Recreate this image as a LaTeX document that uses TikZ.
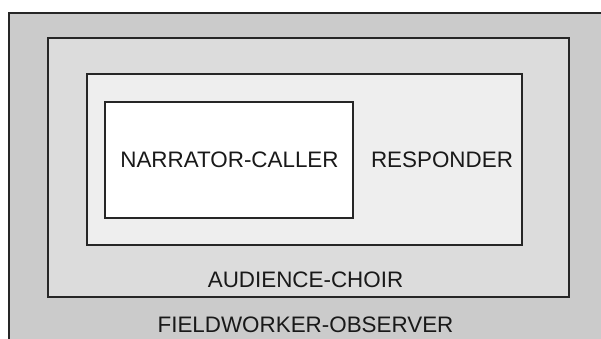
\documentclass[tikz,border=0pt]{standalone}
\usepackage{fontspec}
\setmainfont{Liberation Sans}
\begin{document}
\begin{tikzpicture}[x=1pt,y=-1pt,
  frame/.style={draw=black!85, line width=2pt},
  lbl/.style={anchor=base, inner sep=0pt, font=\fontsize{22.4}{25}\selectfont, text=black!90}]
\useasboundingbox (0,0) rectangle (601,338);
\clip (0,0) rectangle (601,338);
\fill[white] (0,0) rectangle (601,338);
\draw[frame, fill={rgb,255:red,203;green,203;blue,203}] (9,13) rectangle (620,350);
\draw[frame, fill={rgb,255:red,220;green,220;blue,220}] (48,38) rectangle (569,297);
\draw[frame, fill={rgb,255:red,238;green,238;blue,238}] (87,74) rectangle (522,245);
\draw[frame, fill=white] (105,102) rectangle (353,218);
\node[lbl] (narr) at (229.5,167.7) {NARRATOR-CALLER};
\node[lbl] (resp) at (442,167.7) {RESPONDER};
\node[lbl] (aud) at (305.5,287) {AUDIENCE-CHOIR};
\node[lbl] (field) at (305.5,332) {FIELDWORKER-OBSERVER};
\end{tikzpicture}
\end{document}
